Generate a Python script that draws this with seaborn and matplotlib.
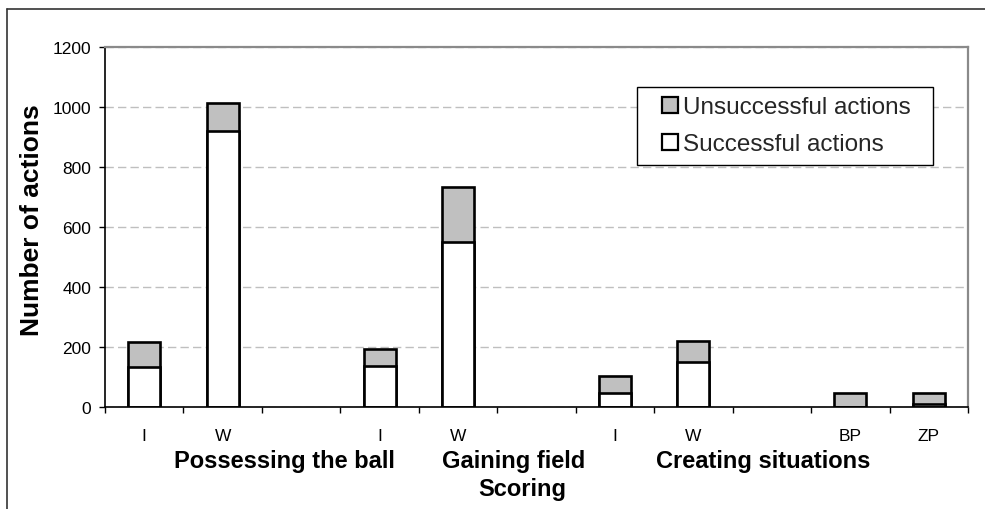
import matplotlib
matplotlib.use("Agg")
import numpy as np
import pandas as pd
import matplotlib.pyplot as plt
import seaborn as sns
from matplotlib.patches import Rectangle
from matplotlib.legend_handler import HandlerPatch
from matplotlib.lines import Line2D
from matplotlib.ticker import FixedLocator

sns.set_theme(style="white")
plt.rcParams['font.family'] = ['Liberation Sans', 'DejaVu Sans']

# ---- data ----
slot_ids = ["pos_I", "pos_W", "gap1", "gain_I", "gain_W", "gap2",
            "score_I", "score_W", "gap3", "BP", "ZP"]
tick_labels = ["I", "W", "", "I", "W", "", "I", "W", "", "BP", "ZP"]
bar_slots = ["pos_I", "pos_W", "gain_I", "gain_W", "score_I", "score_W", "BP", "ZP"]
successful = [132, 919, 136, 551, 46, 151, 0, 9]
unsuccessful = [86, 94, 57, 183, 59, 70, 46, 39]
group_labels = ["Possessing the ball", "Gaining field", "Scoring", "Creating situations"]
series_names = ["Unsuccessful actions", "Successful actions"]
y_ticks = [0, 200, 400, 600, 800, 1000, 1200]

df = pd.DataFrame({"slot": bar_slots, "succ": successful, "unsucc": unsuccessful})
df["total"] = df["succ"] + df["unsucc"]

W, H = 985, 510
fig = plt.figure(figsize=(W / 100, H / 100), dpi=100)
fig.patch.set_facecolor("white")
ax = fig.add_axes([105 / W, 1 - 408 / H, (968 - 105) / W, (408 - 48) / H])
ax.set_facecolor("white")

gray = "#c0c0c0"
sns.barplot(data=df, x="slot", y="total", order=slot_ids, color=gray,
            edgecolor="black", linewidth=1.9, width=0.41, saturation=1,
            errorbar=None, ax=ax)
sns.barplot(data=df, x="slot", y="succ", order=slot_ids, color="white",
            edgecolor="black", linewidth=1.9, width=0.41, saturation=1,
            errorbar=None, ax=ax)

# axes
ax.set_xlim(-0.5, 10.5)
ax.set_ylim(0, 1200)
ax.set_yticks(y_ticks)
ax.set_xticks(range(len(slot_ids)))
ax.set_xticklabels(tick_labels)
ax.set_xlabel("")
ax.set_ylabel("")
ax.tick_params(axis='x', which='major', length=0, pad=15, labelsize=12.5, colors="black")
ax.xaxis.set_minor_locator(FixedLocator(np.arange(-0.5, 11, 1)))
ax.tick_params(axis='x', which='minor', length=4.5, width=1, color='black',
               direction='out', bottom=True)
ax.tick_params(axis='y', length=4.5, width=1, color='black', direction='out',
               pad=5.5, labelsize=12.5, left=True, labelcolor="black")

ax.yaxis.grid(True, color="#bfbfbf", linestyle=(0, (6, 3)), linewidth=1)
ax.xaxis.grid(False)
ax.set_axisbelow(True)

for s in ["top", "right"]:
    ax.spines[s].set_color("#8a8a8a")
    ax.spines[s].set_linewidth(1.6)
for s in ["left", "bottom"]:
    ax.spines[s].set_color("black")
    ax.spines[s].set_linewidth(1.2)

# y label
fig.text(32 / W, 1 - 220 / H, "Number of actions", rotation=90, ha="center",
         va="center", fontsize=19, fontweight="bold", color="black")

# group labels
group_pos = [(284, 462), (514, 462), (522, 490), (763, 462)]
for lab, (gx, gy) in zip(group_labels, group_pos):
    fig.text(gx / W, 1 - gy / H, lab, ha="center", va="center",
             fontsize=17, fontweight="bold", color="black")

# legend
def sq(legend, orig_handle, xdescent, ydescent, width, height, fontsize):
    s = 0.66 * fontsize
    return Rectangle((-xdescent + width - s, -ydescent + (height - s) / 2), s, s)

handles = [Rectangle((0, 0), 1, 1, facecolor=gray, edgecolor="black", linewidth=1.6),
           Rectangle((0, 0), 1, 1, facecolor="white", edgecolor="black", linewidth=1.6)]
leg = ax.legend(handles=handles, labels=series_names,
                handler_map={Rectangle: HandlerPatch(patch_func=sq)},
                loc="upper left",
                bbox_to_anchor=(637 / W, 1 - 173 / H, (933 - 637) / W, 85 / H),
                bbox_transform=fig.transFigure, mode="expand", borderaxespad=0,
                fancybox=False, frameon=True, fontsize=17.5, handlelength=1.3,
                handleheight=0.7, handletextpad=0.22, labelspacing=0.62,
                borderpad=0.38)
fr = leg.get_frame()
fr.set_edgecolor("black")
fr.set_linewidth(1.0)
fr.set_facecolor("white")
fr.set_alpha(1)

# outer frame lines
fig.add_artist(Line2D([7 / W, 1], [1 - 10 / H, 1 - 10 / H], transform=fig.transFigure,
                      color="#333333", linewidth=1.2))
fig.add_artist(Line2D([7 / W, 7 / W], [0, 1 - 10 / H], transform=fig.transFigure,
                      color="#333333", linewidth=1.2))

fig.savefig("out.png", dpi=100, facecolor="white")
